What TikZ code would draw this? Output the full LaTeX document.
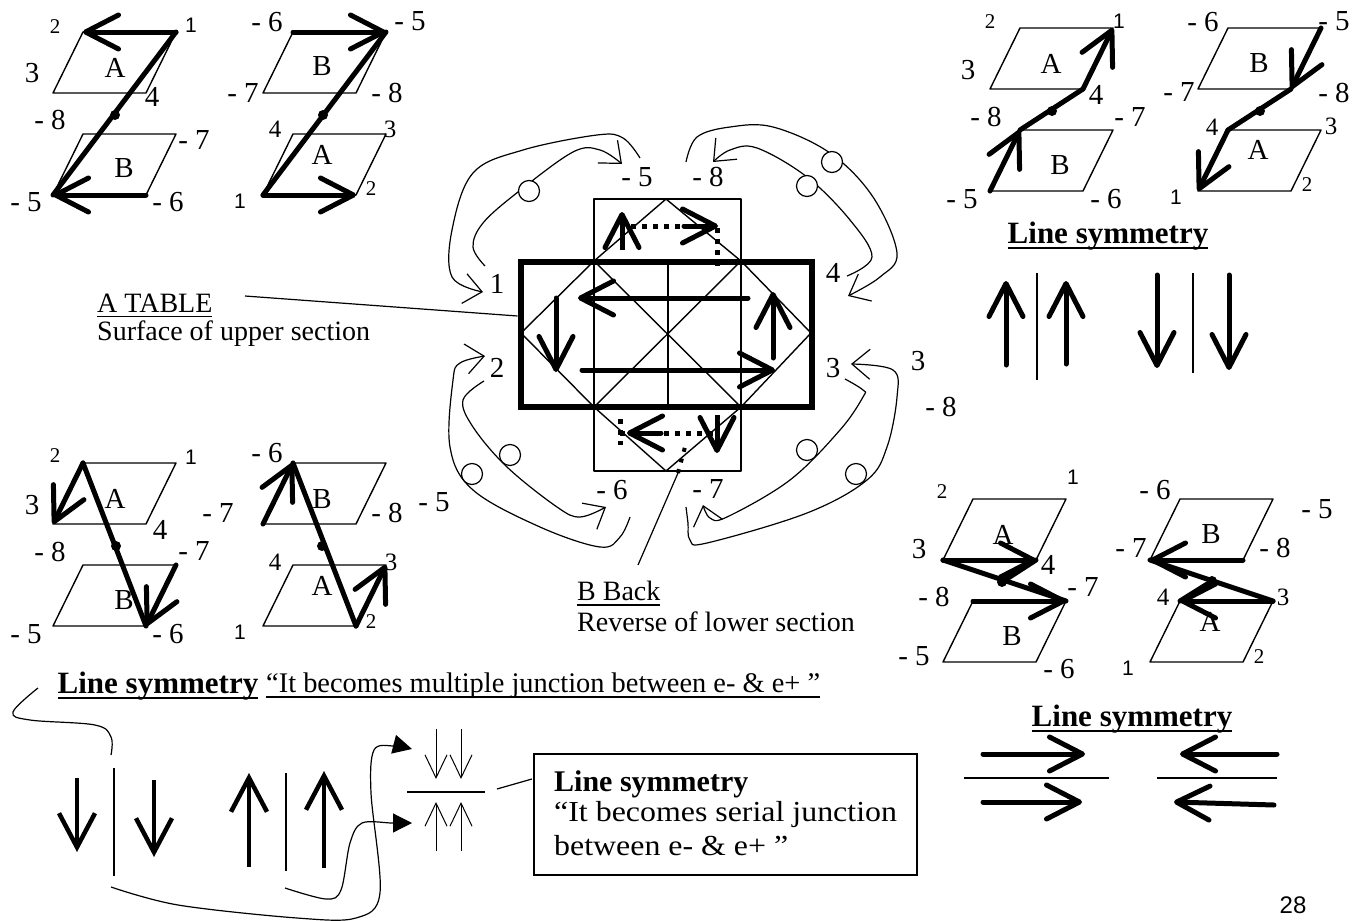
\documentclass[tikz,border=0pt]{standalone}
\usepackage{fontspec}
\setmainfont{Liberation Serif}
\newfontfamily\wideserif[FakeStretch=1.1]{Liberation Serif}
\newfontfamily\plainsans{Liberation Sans}
\usetikzlibrary{arrows.meta}
\newcommand{\fs}[1]{\fontsize{#1}{#1}\selectfont}
% underline with a heavier rule
\newsavebox{\ulbox}
\newcommand{\uln}[1]{\sbox{\ulbox}{#1}\smash{\rlap{\vrule width\wd\ulbox height -3.6pt depth 5.2pt}}\usebox{\ulbox}}
% one panel: two slanted plates, corners a,b,c,d clockwise from top left
\newcommand{\plates}[3]{
    \coordinate (#1ua) at (#2,#3);
    \coordinate (#1ub) at (#2+93,#3);
    \coordinate (#1uc) at (#2+63,#3+61);
    \coordinate (#1ud) at (#2-30,#3+61);
    \coordinate (#1la) at (#2,#3+102);
    \coordinate (#1lb) at (#2+93,#3+102);
    \coordinate (#1lc) at (#2+63,#3+163);
    \coordinate (#1ld) at (#2-30,#3+163);
    \draw[plate] (#1ua) -- (#1ub) -- (#1uc) -- (#1ud) -- cycle;
    \draw[plate] (#1la) -- (#1lb) -- (#1lc) -- (#1ld) -- cycle;
}
\begin{document}
\begin{tikzpicture}[
        x=1pt, y=-1pt,
        plate/.style={line width=1.4pt, line join=round},
        thin/.style={line width=1.2pt},
        heavy/.style={line width=5pt, line cap=round},
        arrow/.style={->, >={Straight Barb[length=33pt,width=34pt,line width=5pt,round]}, line width=5pt, line cap=round},
        midarrow/.style={->, >={Straight Barb[length=34pt,width=36pt,line width=4.5pt]}, line width=4.5pt},
        finearrow/.style={->, >={Straight Barb[length=23pt,width=22pt,line width=1pt]}, line width=1pt},
        curve/.style={->, >={Straight Barb[length=18pt,width=30pt,line width=1.2pt]}, line width=1.2pt},
        swoop/.style={line width=1.2pt, -{Triangle[length=19pt,width=19pt]}},
        ring/.style={circle, draw, fill=white, line width=1.2pt, minimum size=21pt, inner sep=0pt},
        dot/.style={circle, fill=black, minimum size=10pt, inner sep=0pt},
        num/.style={inner sep=0pt, font=\fs{29}},
        medium/.style={inner sep=0pt, font=\fs{25}},
        tiny/.style={inner sep=0pt, font=\fs{21}},
        one/.style={inner sep=0pt, font=\plainsans\fs{21}},
        letter/.style={inner sep=0pt, font=\fs{29}},
        note/.style={inner sep=0pt, anchor=west, font=\fs{28}},
        title/.style={inner sep=0pt, font=\bfseries\fs{31}}
    ]
    \useasboundingbox (0,0) rectangle (1366,921);

    % panel 1
    \plates{p}{83}{32}
    \draw[arrow] (pub) -- (pua);
    \draw[heavy] (pub) -- (pld);
    \draw[arrow] (plc) -- (pld);
    \node[dot] (pdot) at (115,115) {};
    \node[tiny] (pn2) at (55,27) {2};
    \node[one] (pn1) at (191,25) {1};
    \node[num] (pn3) at (32,73) {3};
    \node[letter] (pA) at (115,68) {A};
    \node[num] (pn4) at (152,97) {4};
    \node[num] (pn8) at (50,120) {- 8};
    \node[num] (pn7) at (194,140) {- 7};
    \node[letter] (pB) at (124,168) {B};
    \node[num] (pn5) at (26,202) {- 5};
    \node[num] (pn6) at (168,202) {- 6};

    % panel 2
    \plates{q}{293}{32}
    \draw[arrow] (qua) -- (qub);
    \draw[heavy] (qld) -- (qub);
    \draw[arrow] (qld) -- (qlc);
    \node[dot] (qdot) at (323,115) {};
    \node[num] (qn6) at (267,22) {- 6};
    \node[num] (qn5) at (410,21) {- 5};
    \node[num] (qn7) at (243,93) {- 7};
    \node[num] (qn8) at (387,93) {- 8};
    \node[letter] (qB) at (322,66) {B};
    \node[medium] (qn4) at (275,129) {4};
    \node[medium] (qn3) at (390,129) {3};
    \node[letter] (qA) at (322,155) {A};
    \node[tiny] (qn2) at (371,189) {2};
    \node[one] (qn1) at (240,201) {1};

    % panel 3
    \plates{r}{83}{463}
    \draw[arrow] (rua) -- (rud);
    \draw[heavy] (rua) -- (rlc);
    \draw[arrow] (rlb) -- (rlc);
    \node[dot] (rdot) at (116,546) {};
    \node[tiny] (rn2) at (55,456) {2};
    \node[one] (rn1) at (191,457) {1};
    \node[num] (rn3) at (32,505) {3};
    \node[letter] (rA) at (115,499) {A};
    \node[num] (rn4) at (160,530) {4};
    \node[num] (rn8) at (50,552) {- 8};
    \node[num] (rn7) at (194,551) {- 7};
    \node[letter] (rB) at (124,600) {B};
    \node[num] (rn5) at (26,634) {- 5};
    \node[num] (rn6) at (168,634) {- 6};

    % panel 4
    \plates{s}{293}{463}
    \draw[arrow] (sud) -- (sua);
    \draw[heavy] (slc) -- (sua);
    \draw[arrow] (slc) -- (slb);
    \node[dot] (sdot) at (322,546) {};
    \node[num] (sn6) at (267,453) {- 6};
    \node[num] (sn7) at (218,513) {- 7};
    \node[num] (sn8) at (387,513) {- 8};
    \node[num] (sn5) at (434,502) {- 5};
    \node[letter] (sB) at (322,499) {B};
    \node[medium] (sn4) at (275,562) {4};
    \node[medium] (sn3) at (391,562) {3};
    \node[letter] (sA) at (322,586) {A};
    \node[tiny] (sn2) at (371,622) {2};
    \node[one] (sn1) at (240,632) {1};

    % panel 5
    \plates{t}{1020}{28}
    \draw[arrow] (tuc) -- (tub);
    \draw[heavy] (tla) -- (tuc);
    \draw[arrow] (tld) -- (tla);
    \node[dot] (tdot) at (1052,111) {};
    \node[tiny] (tn2) at (990,22) {2};
    \node[one] (tn1) at (1119,21) {1};
    \node[num] (tn3) at (968,70) {3};
    \node[letter] (tA) at (1051,64) {A};
    \node[num] (tn4) at (1096,95) {4};
    \node[num] (tn8) at (986,117) {- 8};
    \node[num] (tn7) at (1130,117) {- 7};
    \node[letter] (tB) at (1060,165) {B};
    \node[num] (tn5) at (962,199) {- 5};
    \node[num] (tn6) at (1106,199) {- 6};

    % panel 6
    \plates{u}{1228}{28}
    \draw[arrow] (uub) -- (uuc);
    \draw[heavy] (uuc) -- (ula);
    \draw[arrow] (ula) -- (uld);
    \node[dot] (udot) at (1260,111) {};
    \node[num] (un6) at (1203,22) {- 6};
    \node[num] (un5) at (1334,21) {- 5};
    \node[num] (un7) at (1179,92) {- 7};
    \node[num] (un8) at (1334,93) {- 8};
    \node[letter] (uB) at (1259,63) {B};
    \node[medium] (un4) at (1212,127) {4};
    \node[medium] (un3) at (1331,126) {3};
    \node[letter] (uA) at (1258,150) {A};
    \node[tiny] (un2) at (1307,185) {2};
    \node[one] (un1) at (1176,197) {1};

    % panel 7
    \plates{v}{973}{499}
    \node[dot] (vdot) at (1002,582) {};
    \draw[arrow] (vud) -- (vuc);
    \draw[heavy] (vuc) -- (vdot);
    \draw[heavy] (vud) -- (vlb);
    \draw[arrow] (vla) -- (vlb);
    \node[tiny] (vn2) at (942,492) {2};
    \node[one] (vn1) at (1073,477) {1};
    \node[num] (vn3) at (919,549) {3};
    \node[letter] (vA) at (1003,535) {A};
    \node[num] (vn4) at (1048,565) {4};
    \node[num] (vn8) at (934,597) {- 8};
    \node[num] (vn7) at (1083,587) {- 7};
    \node[letter] (vB) at (1012,636) {B};
    \node[num] (vn5) at (914,656) {- 5};
    \node[num] (vn6) at (1059,669) {- 6};

    % panel 8
    \plates{w}{1180}{499}
    \node[dot] (wdot) at (1212,581) {};
    \draw[arrow] (wuc) -- (wud);
    \draw[heavy] (wlb) -- (wud);
    \draw[arrow] (wlb) -- (wla);
    \draw[heavy] (wla) -- (wdot);
    \node[num] (wn6) at (1155,490) {- 6};
    \node[num] (wn5) at (1317,509) {- 5};
    \node[num] (wn7) at (1131,548) {- 7};
    \node[num] (wn8) at (1275,548) {- 8};
    \node[letter] (wB) at (1211,534) {B};
    \node[medium] (wn4) at (1163,597) {4};
    \node[medium] (wn3) at (1283,597) {3};
    \node[letter] (wA) at (1210,622) {A};
    \node[tiny] (wn2) at (1259,657) {2};
    \node[one] (wn1) at (1128,668) {1};

    % table in the middle
    \coordinate (tl) at (594,261);
    \coordinate (tr) at (741,261);
    \coordinate (bl) at (594,407);
    \coordinate (br) at (741,407);
    \coordinate (west) at (521,333);
    \coordinate (east) at (811,333);
    \coordinate (apex) at (666,199);
    \coordinate (foot) at (666,471);
    \coordinate (hl) at (668,261);
    \coordinate (hr) at (668,407);
    \draw[plate] (594,199) rectangle (741,471);
    \draw[plate] (tl) -- (apex) -- (tr) -- (east) -- (br) -- (foot) -- (bl) -- (west) -- cycle;
    \draw[plate] (tl) -- (br);
    \draw[plate] (tr) -- (bl);
    \draw[plate] (hl) -- (hr);
    \draw[plate] (tl) -- (bl);
    \node[draw, line width=6pt, minimum width=291pt, minimum height=145pt, inner sep=0pt] (table) at (666,334) {};
    \draw[arrow] (748,298) -- (578,298);
    \draw[arrow] (556,298) -- (556,372);
    \draw[arrow] (582,370) -- (775,370);
    \draw[arrow] (773,358) -- (773,292);

    % small arrows on the flaps, dotted path
    \draw[line width=5pt, dash pattern=on 5pt off 6pt] (622,250) -- (622,226) -- (717,226) -- (717,266);
    \draw[line width=5pt, dash pattern=on 5pt off 6pt] (620,419) -- (620,445);
    \draw[line width=5pt, dash pattern=on 5pt off 6pt] (620,433) -- (717,433) -- (717,413);
    \draw[arrow] (622,246) -- (622,212);
    \draw[arrow] (684,226) -- (718,226);
    \draw[arrow] (661,433) -- (627,433);
    \draw[arrow] (717,421) -- (717,453);

    % numbers round the table
    \node[num] (cn5) at (637,177) {- 5};
    \node[num] (cn8) at (708,177) {- 8};
    \node[num] (cn1) at (497,284) {1};
    \node[num] (cn4) at (833,273) {4};
    \node[num] (cn2) at (497,368) {2};
    \node[num] (cn3) at (833,368) {3};
    \node[num] (cn6) at (612,490) {- 6};
    \node[num] (cn7) at (708,489) {- 7};
    \node[num] (xn3) at (918,361) {3};
    \node[num] (xn8) at (941,407) {- 8};

    % curved arrows
    \coordinate (alstart) at (640,158);
    \coordinate (alend) at (483,292);
    \draw[curve] plot[smooth, tension=0.6] coordinates {(alstart) (623,138) (597,135) (523,150) (473,173) (452,230) (452,277) (alend)};
    \coordinate (blstart) at (485,266);
    \coordinate (blend) at (622,164);
    \draw[curve] plot[smooth, tension=0.6] coordinates {(blstart) (473,247) (483,223) (518,192) (573,152) (600,150) (blend)};
    \coordinate (arstart) at (686,162);
    \coordinate (arend) at (848,296);
    \draw[curve] plot[smooth, tension=0.6] coordinates {(arstart) (697,137) (730,127) (773,127) (830,153) (873,197) (897,253) (880,277) (arend)};
    \coordinate (brstart) at (847,276);
    \coordinate (brend) at (713,162);
    \draw[curve] plot[smooth, tension=0.6] coordinates {(brstart) (872,257) (850,220) (807,177) (757,148) (730,150) (brend)};
    \coordinate (clstart) at (630,517);
    \coordinate (clend) at (485,356);
    \draw[curve] plot[smooth, tension=0.6] coordinates {(clstart) (620,537) (600,547) (540,527) (473,490) (450,447) (453,380) (460,363) (clend)};
    \coordinate (dlstart) at (484,381);
    \coordinate (dlend) at (606,507);
    \draw[curve] plot[smooth, tension=0.6] coordinates {(dlstart) (463,400) (473,427) (507,467) (557,507) (580,517) (dlend)};
    \coordinate (crstart) at (686,507);
    \coordinate (crend) at (851,364);
    \draw[curve] plot[smooth, tension=0.6] coordinates {(crstart) (688,523) (690,540) (707,543) (807,513) (867,480) (887,447) (897,397) (893,370) (crend)};
    \coordinate (drstart) at (845,379);
    \coordinate (drend) at (703,505);
    \draw[curve] plot[smooth, tension=0.6] coordinates {(drstart) (863,390) (863,397) (840,430) (790,480) (727,517) (710,518) (drend)};
    \node[ring] (ring1) at (529,191) {};
    \node[ring] (ring2) at (832,162) {};
    \node[ring] (ring3) at (807,186) {};
    \node[ring] (ring4) at (510,455) {};
    \node[ring] (ring5) at (472,474) {};
    \node[ring] (ring6) at (807,450) {};
    \node[ring] (ring7) at (856,474) {};

    % labels of the table
    \node[note] (tabletitle) at (97,303) {\uln{A TABLE}};
    \node[note] (tabletext) at (97,334) {Surface of upper section};
    \node[note] (backtitle) at (577,591) {\uln{B Back}};
    \node[note] (backtext) at (577,622) {Reverse of lower section};
    \coordinate (tablelead) at (245,296);
    \coordinate (backlead) at (638,565);
    \coordinate (backfoot) at (678,473);
    \draw[thin] (tablelead) -- (table.west |- 0,316);
    \draw[thin] (backlead) -- (backfoot);
    \draw[line width=4pt, dash pattern=on 4pt off 7pt] (backfoot) -- (685,447);

    % right column, upper pairs
    \node[title] (symright) at (1108,236) {\uln{Line symmetry}};
    \draw[arrow] (1006,365) -- (1006,281);
    \draw[thin] (1037,273) -- (1037,380);
    \draw[arrow] (1066,364) -- (1066,281);
    \draw[arrow] (1157,275) -- (1157,368);
    \draw[thin] (1193,273) -- (1193,373);
    \draw[arrow] (1229,275) -- (1229,370);

    % right column, lower pairs
    \node[title] (symlow) at (1132,719) {\uln{Line symmetry}};
    \draw[arrow] (983,754) -- (1085,754);
    \draw[thin] (964,778) -- (1109,778);
    \draw[arrow] (983,802) -- (1082,802);
    \draw[arrow] (1277,754) -- (1180,754);
    \draw[thin] (1157,778) -- (1277,778);
    \draw[arrow] (1274,805) -- (1174,802);

    % bottom row
    \node[title] (symleft) at (158,686) {\uln{Line symmetry}};
    \node[note, font=\fs{28.4}] (multi) at (266,686) {\uln{“It becomes multiple junction between e- \& e+ ”}};
    \draw[midarrow] (77,778) -- (77,852);
    \draw[thin] (114,768) -- (114,876);
    \draw[midarrow] (154,780) -- (154,857);
    \draw[midarrow] (249,867) -- (249,773);
    \draw[thin] (286,773) -- (286,871);
    \draw[midarrow] (324,868) -- (324,771);
    \coordinate (bendstart) at (38,688);
    \coordinate (bendend) at (111,755);
    \draw[thin] plot[smooth, tension=0.6] coordinates {(bendstart) (13,712) (30,720) (95,725) (111,737) (bendend)};

    % small symbol with the box
    \draw[finearrow] (436,729) -- (436,779);
    \draw[finearrow] (461,729) -- (461,779);
    \draw[line width=2pt] (407,792) -- (485,792);
    \draw[finearrow] (436,851) -- (436,802);
    \draw[finearrow] (461,851) -- (461,802);
    \node[draw, line width=1.5pt, minimum width=383pt, minimum height=121pt, inner sep=0pt] (serial) at (725.5,814.5) {};
    \coordinate (serialfoot) at (497,789);
    \draw[thin] (serialfoot) -- (532,779);
    \node[inner sep=0pt, anchor=west, font=\bfseries\fs{30}] (serialtitle) at (554,784) {Line symmetry};
    \node[note, font=\wideserif\fs{29}] (serialone) at (554,815) {“It becomes serial junction};
    \node[note, font=\wideserif\fs{29}] (serialtwo) at (554,846) {between e- \& e+ ”};
    \coordinate (swoopa) at (111,887);
    \coordinate (tipa) at (412,749);
    \draw[swoop] plot[smooth, tension=0.55] coordinates {(swoopa) (178,905) (297,918) (356,918) (380,893) (371,793) (374,750) (394,746) (tipa)};
    \coordinate (swoopb) at (285,888);
    \coordinate (tipb) at (412,823);
    \draw[swoop] plot[smooth, tension=0.55] coordinates {(swoopb) (326,899) (341,890) (350,843) (362,823) (392,823) (tipb)};

    \node[inner sep=0pt, font=\plainsans\fs{24}] (pagenum) at (1293,905) {28};
\end{tikzpicture}
\end{document}
